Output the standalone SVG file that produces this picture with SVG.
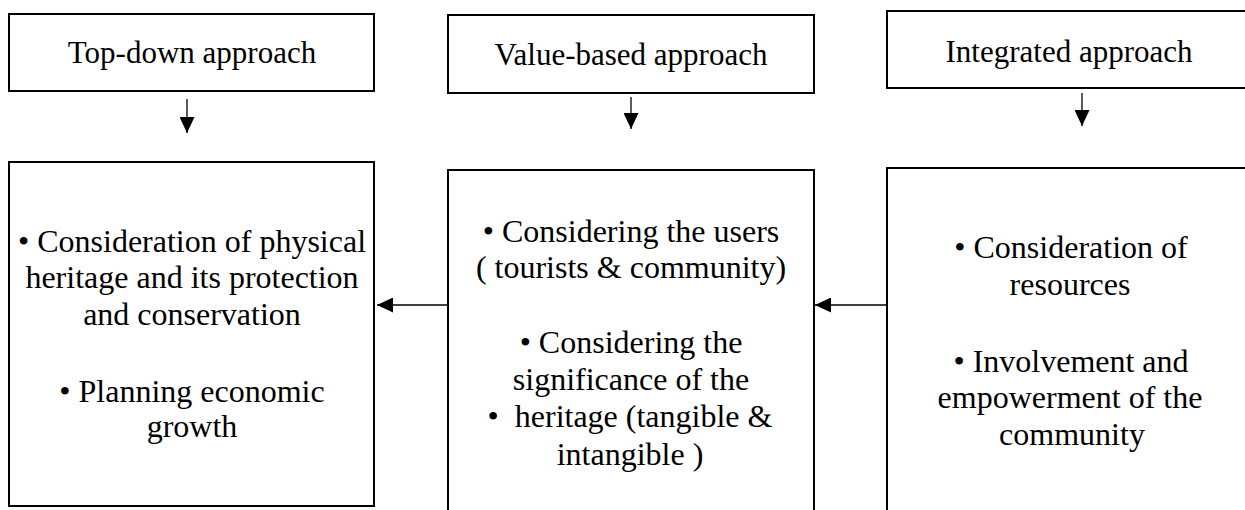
<svg xmlns="http://www.w3.org/2000/svg" width="1245" height="510" viewBox="0 0 1245 510">
  <style>
    .box { fill: #ffffff; stroke: #000000; stroke-width: 2; }
    .link { stroke: #000000; stroke-width: 1.3; fill: none; marker-end: url(#arrow); }
  </style>
  <defs>
    <marker id="arrow" markerUnits="userSpaceOnUse" markerWidth="17" markerHeight="15" refX="16" refY="7.5" orient="auto">
      <path d="M0,0 L16,7.5 L0,15 Z" fill="#000000"/>
    </marker>
  </defs>
  <rect width="1245" height="510" fill="#ffffff"/>

  <!-- approach headers -->
  <g id="top-down" font-size="31" text-anchor="middle">
    <rect class="box" x="9" y="14" width="365" height="77"/>
    <text font-family="'Liberation Serif', serif" x="192" y="63">Top-down approach</text>
  </g>
  <g id="value-based" font-size="31" text-anchor="middle">
    <rect class="box" x="448" y="15" width="366" height="78"/>
    <text font-family="'Liberation Serif', serif" x="631" y="65">Value-based approach</text>
  </g>
  <g id="integrated" font-size="31" text-anchor="middle">
    <rect class="box" x="887" y="11" width="400" height="77"/>
    <text font-family="'Liberation Serif', serif" x="1069" y="62">Integrated approach</text>
  </g>

  <!-- approach details -->
  <g id="top-down-detail" font-size="32" text-anchor="middle">
    <rect class="box" x="9" y="162" width="365" height="344"/>
    <text font-family="'Liberation Serif', serif" x="192" y="252">• Consideration of physical</text>
    <text font-family="'Liberation Serif', serif" x="192" y="288">heritage and its protection</text>
    <text font-family="'Liberation Serif', serif" x="192" y="325">and conservation</text>
    <text font-family="'Liberation Serif', serif" x="192" y="402">• Planning economic</text>
    <text font-family="'Liberation Serif', serif" x="192" y="437">growth</text>
  </g>
  <g id="value-based-detail" font-size="32" text-anchor="middle">
    <rect class="box" x="448" y="170" width="366" height="360"/>
    <text font-family="'Liberation Serif', serif" x="631" y="242">• Considering the users</text>
    <text font-family="'Liberation Serif', serif" x="631" y="278">( tourists &amp; community)</text>
    <text font-family="'Liberation Serif', serif" x="631" y="353">• Considering the</text>
    <text font-family="'Liberation Serif', serif" x="631" y="390">significance of the</text>
    <text font-family="'Liberation Serif', serif" x="630" y="427" xml:space="preserve">•  heritage (tangible &amp;</text>
    <text font-family="'Liberation Serif', serif" x="630" y="465">intangible )</text>
  </g>
  <g id="integrated-detail" font-size="32" text-anchor="middle">
    <rect class="box" x="887" y="168" width="400" height="362"/>
    <text font-family="'Liberation Serif', serif" x="1071" y="258">• Consideration of</text>
    <text font-family="'Liberation Serif', serif" x="1070" y="295">resources</text>
    <text font-family="'Liberation Serif', serif" x="1071" y="372">• Involvement and</text>
    <text font-family="'Liberation Serif', serif" x="1070" y="408">empowerment of the</text>
    <text font-family="'Liberation Serif', serif" x="1072" y="445">community</text>
  </g>

  <!-- connectors -->
  <g id="connectors">
    <line class="link" x1="187" y1="99" x2="187" y2="133"/>
    <line class="link" x1="631" y1="97" x2="631" y2="129"/>
    <line class="link" x1="1082" y1="93" x2="1082" y2="126"/>
    <line class="link" x1="447" y1="305" x2="377" y2="305"/>
    <line class="link" x1="886" y1="305" x2="815" y2="305"/>
  </g>
</svg>
